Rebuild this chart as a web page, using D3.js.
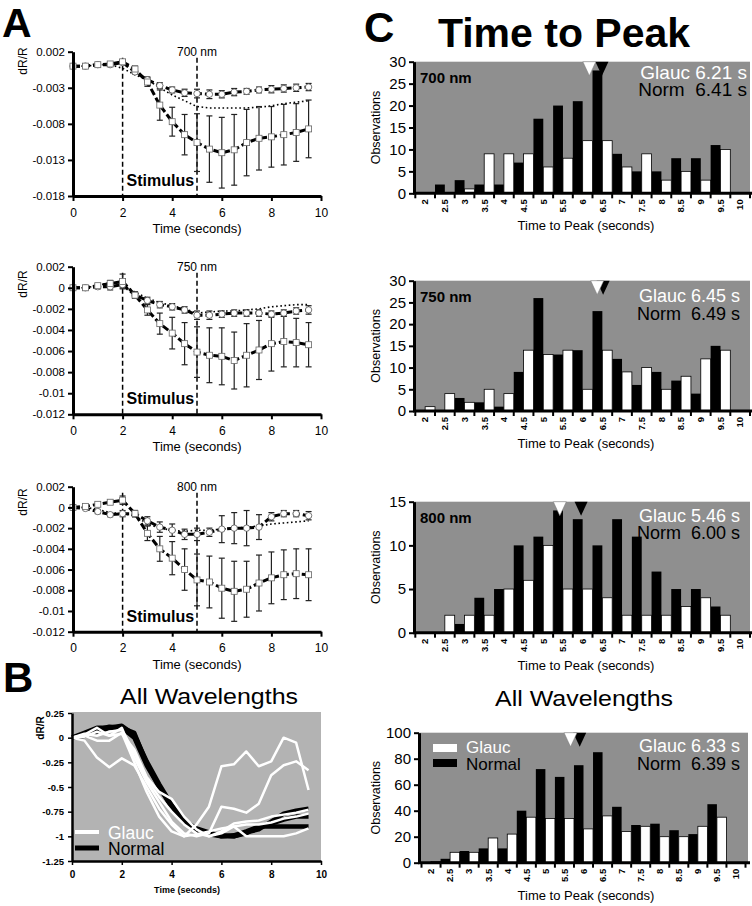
<!DOCTYPE html>
<html><head><meta charset="utf-8">
<script src="https://cdn.jsdelivr.net/npm/d3@7"></script>
<style>
body{margin:0;background:#fff;}
svg{display:block;font-family:"Liberation Sans",Arial,Helvetica,sans-serif;}
</style></head><body><svg id="c" width="752" height="906"></svg>
<script>
// ---------------- DATA ----------------
const time = [0,0.5,1,1.5,2,2.5,3,3.5,4,4.5,5,5.5,6,6.5,7,7.5,8,8.5,9,9.5];

// Panel A (squares = large response w/ big error bars, circles = small response, dotted = third trace)
const sq700 = [0,0,0.0002,0.0003,0.0006,-0.0004,-0.0022,-0.0054,-0.0077,-0.0095,-0.0106,-0.0115,-0.012,-0.0116,-0.0106,-0.01,-0.0098,-0.0095,-0.0092,-0.0087];
const sqErr700 = [0,0,0.0001,0.0001,0.0003,0.0004,0.0006,0.0021,0.002,0.0028,0.004,0.0046,0.0049,0.0049,0.0046,0.0044,0.0042,0.0042,0.004,0.004];
const ci700 = [0,0,0.0002,0.0002,0.0005,-0.0008,-0.0019,-0.0027,-0.0033,-0.0037,-0.0038,-0.0039,-0.0039,-0.0036,-0.0035,-0.0033,-0.0032,-0.0031,-0.003,-0.0029];
const ciErr700 = [0,0,0.0002,0.0002,0.0002,0.0003,0.0004,0.0004,0.0004,0.0005,0.0006,0.0006,0.0005,0.0005,0.0004,0.0004,0.0005,0.0005,0.0005,0.0005];
const dot700 = [0,0,0.0002,0.0002,-0.0003,-0.0012,-0.0019,-0.003,-0.004,-0.0048,-0.0056,-0.0058,-0.0058,-0.0058,-0.0058,-0.0057,-0.0055,-0.0052,-0.005,-0.0048];

const sq750 = [0,0,0.0002,0.0004,0.0006,-0.0007,-0.0021,-0.0034,-0.0043,-0.0053,-0.0061,-0.0064,-0.0065,-0.0069,-0.0064,-0.0059,-0.0053,-0.0051,-0.0052,-0.0054];
const sqErr750 = [0,0,0.0002,0.0003,0.0007,0.0003,0.0005,0.001,0.0015,0.002,0.0024,0.0026,0.0027,0.0027,0.003,0.0028,0.0026,0.0024,0.0023,0.0021];
const ci750 = [0,0,0.0001,0.0001,0.0003,-0.0007,-0.0012,-0.0016,-0.0018,-0.0021,-0.0026,-0.0026,-0.0025,-0.0024,-0.0024,-0.0024,-0.0025,-0.0024,-0.0022,-0.0021];
const ciErr750 = [0,0.0001,0.0002,0.0003,0.0003,0.0003,0.0003,0.0003,0.0003,0.0003,0.0004,0.0004,0.0003,0.0003,0.0003,0.0003,0.0003,0.0003,0.0003,0.0004];
const dot750 = [0,0,0.0002,0.0005,0.0003,-0.0004,-0.001,-0.0014,-0.0017,-0.002,-0.0024,-0.0023,-0.0022,-0.0022,-0.0021,-0.002,-0.0018,-0.0017,-0.0016,-0.0016];

const sq800 = [0,0.0001,0.0003,0.0005,0.0007,-0.0006,-0.0025,-0.004,-0.0049,-0.006,-0.007,-0.0072,-0.0078,-0.0081,-0.0079,-0.0073,-0.0068,-0.0065,-0.0064,-0.0065];
const sqErr800 = [0,0,0.0002,0.0002,0.0004,0.0003,0.0007,0.0012,0.0016,0.002,0.0025,0.0025,0.0029,0.0029,0.0027,0.0027,0.0025,0.0024,0.0024,0.0025];
const ci800 = [0,-0.0001,-0.0004,-0.0007,-0.0006,-0.0006,-0.0013,-0.0019,-0.0022,-0.0026,-0.0026,-0.0024,-0.0021,-0.002,-0.002,-0.0019,-0.0009,-0.0006,-0.0006,-0.0008];
const ciErr800 = [0,0.0001,0.0002,0.0002,0.0003,0.0003,0.0004,0.0005,0.0006,0.0005,0.0006,0.0004,0.0013,0.0015,0.0017,0.0012,0.0004,0.0003,0.0003,0.0004];
const dot800 = [0,0,-0.0002,-0.0005,-0.0006,-0.0008,-0.0016,-0.002,-0.0022,-0.0023,-0.0022,-0.0022,-0.0021,-0.002,-0.0019,-0.0018,-0.0016,-0.0015,-0.0014,-0.0013];

const wavelengthLabels = ["700 nm","750 nm","800 nm"];
const aTicksTop = [0.002,-0.003,-0.008,-0.013,-0.018];
const aTickLabelsTop = ["0.002","-0.003","-0.008","-0.013","-0.018"];
const aTicksLow = [0.002,0,-0.002,-0.004,-0.006,-0.008,-0.01,-0.012];
const aTickLabelsLow = ["0.002","0","-0.002","-0.004","-0.006","-0.008","-0.01","-0.012"];
const timeTicks = [0,2,4,6,8,10];

// Panel B (normalized traces)
const normalB1 = [0,0.05,0.1,0.1,0.12,0.03,-0.24,-0.47,-0.68,-0.84,-0.92,-0.96,-1,-1,-0.96,-0.93,-0.85,-0.77,-0.74,-0.72];
const normalB2 = [0,0.03,0.08,0.11,0.1,0,-0.28,-0.5,-0.7,-0.86,-0.94,-0.98,-1,-0.99,-0.95,-0.9,-0.87,-0.83,-0.8,-0.8];
const normalB3 = [0,0.02,0.06,0.1,0.1,0.05,-0.26,-0.5,-0.7,-0.85,-0.93,-0.97,-0.99,-1,-0.97,-0.9,-0.9,-0.9,-0.9,-0.9];
const glaucB1 = [0,-0.03,-0.2,-0.3,-0.21,-0.28,-0.5,-0.72,-0.88,-1,-0.88,-0.7,-0.29,-0.27,-0.14,-0.29,-0.24,0,-0.05,-0.53];
const glaucB2 = [0,0.03,0.1,0.02,0.1,-0.2,-0.45,-0.65,-0.85,-0.97,-1,-0.97,-0.7,-0.72,-0.76,-0.67,-0.38,-0.28,-0.24,-0.33];
const glaucB3 = [0,0.02,-0.03,-0.03,0.05,-0.25,-0.55,-0.8,-0.95,-1,-0.98,-0.95,-0.92,-0.9,-1,-1,-1,-1,-0.97,-0.92];
const glaucB4 = [0,0.04,0.02,0.06,0.08,-0.15,-0.42,-0.6,-0.75,-0.88,-0.97,-1,-0.95,-0.87,-0.85,-0.84,-0.8,-0.78,-0.76,-0.73];
const glaucB5 = [0,0.01,0.06,0.02,0.04,-0.12,-0.4,-0.55,-0.62,-0.8,-0.93,-1,-0.97,-0.9,-0.88,-0.88,-0.86,-0.82,-0.8,-0.77];
const bTicks = [0.25,0,-0.25,-0.5,-0.75,-1,-1.25];
const bTickLabels = ["0.25","0","-0.25","-0.5","-0.75","-1","-1.25"];

// Panel C (histograms of time to peak)
const bins = ["2","2.5","3","3.5","4","4.5","5","5.5","6","6.5","7","7.5","8","8.5","9","9.5","10"];
const normal700 = [0,2,3,2,2,7,17,20,21,28,9,5,5,8,8,11,0];
const glauc700  = [0,0,1,9,9,9,6,8,12,12,6,9,3,5,3,10,0];
const normal750 = [0,0,3,2,1,9,26,13,14,23,12,6,9,7,4,15,0];
const glauc750  = [1,4,2,5,4,14,13,14,5,14,9,10,5,8,12,14,0];
const normal800 = [0,0,1,4,5,10,11,14,13,10,13,11,7,5,5,3,0];
const glauc800  = [0,2,2,2,5,6,10,5,5,4,2,2,2,3,4,2,0];
const normalAll = [0,3,9,11,11,40,72,66,75,85,43,29,30,25,22,45,0];
const glaucAll  = [1,8,8,19,22,35,34,34,26,36,24,28,20,20,28,35,0];
const glaucMean = ["6.21","6.45","5.46","6.33"];
const normMean  = ["6.41","6.49","6.00","6.39"];
const glaucMarker = [6.17,6.37,5.42,5.66];
const normMarker  = [6.49,6.52,5.96,5.9];
const histTicks30 = [0,5,10,15,20,25,30];
const histTicks15 = [0,5,10,15];
const histTicks100 = [0,20,40,60,80,100];

// ---------------- DRAW ----------------
const svg = d3.select("#c");
const FONT = '"Liberation Sans",Arial,Helvetica,sans-serif';

// panel letters
svg.append("text").attr("x",2).attr("y",37).attr("font-size",41).attr("font-weight","bold").text("A");
svg.append("text").attr("x",3).attr("y",692).attr("font-size",42).attr("font-weight","bold").text("B");
svg.append("text").attr("x",364).attr("y",42).attr("font-size",42).attr("font-weight","bold").text("C");

// ---- Panel A ----
const aLayout = [
  {yTop:51.7, yBot:196, lab:61, domain:[-0.018,0.002], ticks:aTicksTop, labels:aTickLabelsTop},
  {yTop:266.7, yBot:414.3, lab:284, domain:[-0.012,0.002], ticks:aTicksLow, labels:aTickLabelsLow},
  {yTop:486.7, yBot:631.7, lab:502, domain:[-0.012,0.002], ticks:aTicksLow, labels:aTickLabelsLow}
];
const aSeries = [
  {sq:sq700, sqE:sqErr700, ci:ci700, ciE:ciErr700, dot:dot700},
  {sq:sq750, sqE:sqErr750, ci:ci750, ciE:ciErr750, dot:dot750},
  {sq:sq800, sqE:sqErr800, ci:ci800, ciE:ciErr800, dot:dot800}
];

aLayout.forEach((L, k) => {
  const S = aSeries[k];
  const g = svg.append("g");
  const x = d3.scaleLinear().domain([0,10]).range([73,321]);
  const y = d3.scaleLinear().domain(L.domain).range([L.yBot, L.yTop]);
  const line = arr => d3.line().x((d,i)=>x(time[i])).y(d=>y(d))(arr);

  [2,5].forEach(t => {
    g.append("line").attr("x1",x(t)).attr("x2",x(t)).attr("y1",L.yTop+6).attr("y2",L.yBot)
      .attr("stroke","#000").attr("stroke-width",1.5).attr("stroke-dasharray","5,3");
  });
  g.append("text").attr("x",x(5)).attr("y",L.yTop+4).attr("text-anchor","middle").attr("font-size",12).text(wavelengthLabels[k]);
  g.append("text").attr("x",x(2)+4).attr("y",L.yBot-10).attr("font-size",16).attr("font-weight","bold").text("Stimulus");

  g.append("path").attr("d",line(S.dot)).attr("fill","none").attr("stroke","#000").attr("stroke-width",1.6).attr("stroke-dasharray","1.6,2.6");
  g.append("path").attr("d",line(S.ci)).attr("fill","none").attr("stroke","#000").attr("stroke-width",3).attr("stroke-dasharray","7,3");
  g.append("path").attr("d",line(S.sq)).attr("fill","none").attr("stroke","#000").attr("stroke-width",3).attr("stroke-dasharray","7,3");

  const eb = (vals, errs) => {
    time.forEach((t,i) => {
      if (!errs[i]) return;
      const cx = x(t), y1 = y(vals[i]+errs[i]), y2 = y(vals[i]-errs[i]);
      g.append("line").attr("x1",cx).attr("x2",cx).attr("y1",y1).attr("y2",y2).attr("stroke","#222").attr("stroke-width",1.2);
      [y1,y2].forEach(yy => g.append("line").attr("x1",cx-3).attr("x2",cx+3).attr("y1",yy).attr("y2",yy).attr("stroke","#222").attr("stroke-width",1.2));
    });
  };
  eb(S.ci, S.ciE);
  eb(S.sq, S.sqE);

  g.selectAll(".ci").data(S.ci).join("circle").attr("cx",(d,i)=>x(time[i])).attr("cy",d=>y(d)).attr("r",3.2)
    .attr("fill","#fff").attr("stroke","#555").attr("stroke-width",0.8);
  g.selectAll(".sq").data(S.sq).join("rect").attr("x",(d,i)=>x(time[i])-3).attr("y",d=>y(d)-3).attr("width",6).attr("height",6)
    .attr("fill","#fff").attr("stroke","#666").attr("stroke-width",0.8);

  const ya = g.append("g").attr("transform","translate(73,0)")
    .call(d3.axisLeft(y).tickValues(L.ticks).tickFormat((d,i)=>L.labels[i]).tickSize(5).tickSizeOuter(0).tickPadding(3));
  ya.select(".domain").attr("stroke-width",3);
  ya.selectAll(".tick line").attr("stroke-width",2);
  ya.selectAll("text").attr("font-size",11.5).attr("font-family",FONT);
  const xa = g.append("g").attr("transform",`translate(0,${L.yBot})`)
    .call(d3.axisBottom(x).tickValues(timeTicks).tickSize(5).tickSizeOuter(0).tickPadding(7));
  xa.select(".domain").attr("stroke-width",3);
  xa.selectAll(".tick line").attr("stroke-width",2);
  xa.selectAll("text").attr("font-size",12).attr("font-family",FONT);
  g.append("text").attr("x",197).attr("y",L.yBot+37).attr("text-anchor","middle").attr("font-size",13).text("Time (seconds)");
  g.append("text").attr("transform",`translate(27,${L.lab}) rotate(-90)`).attr("text-anchor","middle").attr("font-size",12).text("dR/R");
});

// ---- Panel B ----
(function(){
  const g = svg.append("g");
  const x = d3.scaleLinear().domain([0,10]).range([72,321]);
  const y = d3.scaleLinear().domain([-1.25,0.25]).range([861,713]);
  g.append("text").attr("x",209).attr("y",704).attr("text-anchor","middle").attr("font-size",22)
    .attr("textLength",178).attr("lengthAdjust","spacingAndGlyphs").text("All Wavelengths");
  g.append("rect").attr("x",72).attr("y",y(0.25)-1).attr("width",249).attr("height",y(-1.25)-y(0.25)+1).attr("fill","#b3b3b3");
  const line = arr => d3.line().x((d,i)=>x(time[i])).y(d=>y(d))(arr);
  [normalB1,normalB2,normalB3].forEach(a => g.append("path").attr("d",line(a)).attr("fill","none").attr("stroke","#000").attr("stroke-width",4.5).attr("stroke-linejoin","round"));
  [glaucB1,glaucB2,glaucB3,glaucB4,glaucB5].forEach(a => g.append("path").attr("d",line(a)).attr("fill","none").attr("stroke","#fff").attr("stroke-width",2.5).attr("stroke-linejoin","round"));
  g.append("line").attr("x1",75).attr("x2",99).attr("y1",832).attr("y2",832).attr("stroke","#fff").attr("stroke-width",4);
  g.append("text").attr("x",108).attr("y",839).attr("font-size",17.5).attr("fill","#fff").text("Glauc");
  g.append("line").attr("x1",75).attr("x2",99).attr("y1",848).attr("y2",848).attr("stroke","#000").attr("stroke-width",5);
  g.append("text").attr("x",108).attr("y",855).attr("font-size",17.5).attr("fill","#000").text("Normal");
  const ya = g.append("g").attr("transform","translate(72,0)")
    .call(d3.axisLeft(y).tickValues(bTicks).tickFormat((d,i)=>bTickLabels[i]).tickSize(4).tickSizeOuter(0).tickPadding(4));
  ya.select(".domain").attr("stroke-width",2.5);
  ya.selectAll(".tick line").attr("stroke-width",1.5);
  ya.selectAll("text").attr("font-size",9.5).attr("font-weight","bold").attr("font-family",FONT);
  const xa = g.append("g").attr("transform","translate(0,861)")
    .call(d3.axisBottom(x).tickValues(timeTicks).tickSize(4).tickSizeOuter(0).tickPadding(6));
  xa.select(".domain").attr("stroke-width",2.5);
  xa.selectAll(".tick line").attr("stroke-width",1.5);
  xa.selectAll("text").attr("font-size",10).attr("font-weight","bold").attr("font-family",FONT);
  g.append("text").attr("x",187).attr("y",893).attr("text-anchor","middle").attr("font-size",9).attr("font-weight","bold").text("Time (seconds)");
  g.append("text").attr("transform","translate(44,728) rotate(-90)").attr("text-anchor","middle").attr("font-size",10).attr("font-weight","bold").text("dR/R");
})();

// ---- Panel C ----
svg.append("text").attr("x",564).attr("y",47).attr("text-anchor","middle").attr("font-size",41).attr("font-weight","bold").text("Time to Peak");
svg.append("text").attr("x",584).attr("y",706).attr("text-anchor","middle").attr("font-size",22)
  .attr("textLength",178).attr("lengthAdjust","spacingAndGlyphs").text("All Wavelengths");

const cLayout = [
  {top:61.7, bottom:193.3, left:414, right:750, bandL:415.3, bandR:750, tx:747, t1:17, t2:34, fs:19, wl:"700 nm"},
  {top:280.7, bottom:411, left:414, right:750, bandL:415.3, bandR:750, tx:740, t1:21, t2:39, fs:18, wl:"750 nm"},
  {top:501.7, bottom:632.7, left:414, right:750, bandL:415.3, bandR:750, tx:740, t1:20, t2:37, fs:18, wl:"800 nm"},
  {top:732.7, bottom:862.7, left:419, right:748, bandL:421.5, bandR:745.5, tx:740, t1:19, t2:37, fs:18, wl:null, legend:true}
];
const cData = [
  {n:normal700, g:glauc700, ticks:histTicks30},
  {n:normal750, g:glauc750, ticks:histTicks30},
  {n:normal800, g:glauc800, ticks:histTicks15},
  {n:normalAll, g:glaucAll, ticks:histTicks100}
];

cLayout.forEach((L,k) => {
  const D = cData[k];
  const g = svg.append("g");
  const x = d3.scaleBand().domain(bins).range([L.bandL, L.bandR]).padding(0);
  const y = d3.scaleLinear().domain([0, D.ticks[D.ticks.length-1]]).range([L.bottom, L.top]);
  const hw = x.bandwidth()/2;
  g.append("rect").attr("x",L.left).attr("y",L.top).attr("width",L.right-L.left).attr("height",L.bottom-L.top).attr("fill","#8f8f8f");

  const nb = bins.map((b,i)=>({b, v:D.n[i]})).filter(d=>d.v>0);
  const gb = bins.map((b,i)=>({b, v:D.g[i]})).filter(d=>d.v>0);
  g.selectAll(".nb").data(nb).join("rect").attr("x",d=>x(d.b)).attr("y",d=>y(d.v)).attr("width",hw).attr("height",d=>L.bottom-y(d.v)).attr("fill","#000");
  g.selectAll(".gb").data(gb).join("rect").attr("x",d=>x(d.b)+hw).attr("y",d=>y(d.v)).attr("width",hw).attr("height",d=>L.bottom-y(d.v))
    .attr("fill","#fff").attr("stroke","#000").attr("stroke-width",0.8);

  const xm = d3.scaleLinear().domain([2,10]).range([x("2")+hw, x("10")+hw]);
  const tri = cx => `M${cx-6.5},${L.top}L${cx+6.5},${L.top}L${cx},${L.top+14}Z`;
  g.append("path").attr("d",tri(xm(normMarker[k]))).attr("fill","#000");
  g.append("path").attr("d",tri(xm(glaucMarker[k]))).attr("fill","#fff").attr("stroke","#777").attr("stroke-width",0.5);

  g.append("text").attr("x",L.tx).attr("y",L.top+L.t1).attr("text-anchor","end").attr("font-size",L.fs).attr("fill","#fff")
    .style("white-space","pre").text("Glauc " + glaucMean[k] + " s");
  g.append("text").attr("x",L.tx).attr("y",L.top+L.t2).attr("text-anchor","end").attr("font-size",L.fs).attr("fill","#000")
    .style("white-space","pre").text("Norm  " + normMean[k] + " s");
  if (L.wl) g.append("text").attr("x",420).attr("y",L.top+21).attr("font-size",15).attr("font-weight","bold").text(L.wl);
  if (L.legend) {
    g.append("rect").attr("x",433).attr("y",744).attr("width",24).attr("height",8).attr("fill","#fff");
    g.append("text").attr("x",466).attr("y",753).attr("font-size",17).attr("fill","#fff").text("Glauc");
    g.append("rect").attr("x",433).attr("y",759).attr("width",24).attr("height",8).attr("fill","#000");
    g.append("text").attr("x",466).attr("y",770).attr("font-size",17).attr("fill","#000").text("Normal");
  }

  const ya = g.append("g").attr("transform",`translate(${L.left},0)`)
    .call(d3.axisLeft(y).tickValues(D.ticks).tickSize(5).tickSizeOuter(0).tickPadding(3));
  ya.select(".domain").attr("stroke-width",3);
  ya.selectAll(".tick line").attr("stroke-width",2);
  ya.selectAll("text").attr("font-size",15).attr("font-family",FONT);
  g.append("line").attr("x1",L.left-1).attr("x2",L.right+2).attr("y1",L.bottom).attr("y2",L.bottom).attr("stroke","#000").attr("stroke-width",3);
  const edges = bins.map(b=>x(b)).concat([x("10")+x.bandwidth()]);
  g.selectAll(".et").data(edges).join("line").attr("x1",d=>d).attr("x2",d=>d).attr("y1",L.bottom).attr("y2",L.bottom+5)
    .attr("stroke","#000").attr("stroke-width",2);
  const xa = g.append("g").attr("transform",`translate(0,${L.bottom})`)
    .call(d3.axisBottom(x).tickSize(0).tickSizeOuter(0));
  xa.select(".domain").remove();
  xa.selectAll("text").attr("font-size",9.5).attr("font-weight","bold").attr("font-family",FONT)
    .attr("transform","rotate(-90)").attr("x",-6).attr("y",0).attr("dy","0.35em").style("text-anchor","end");
  g.append("text").attr("x",586).attr("y",L.bottom+37).attr("text-anchor","middle").attr("font-size",13).text("Time to Peak (seconds)");
  g.append("text").attr("transform",`translate(380,${(L.top+L.bottom)/2}) rotate(-90)`).attr("text-anchor","middle").attr("font-size",12.5).text("Observations");
});
</script></body></html>
